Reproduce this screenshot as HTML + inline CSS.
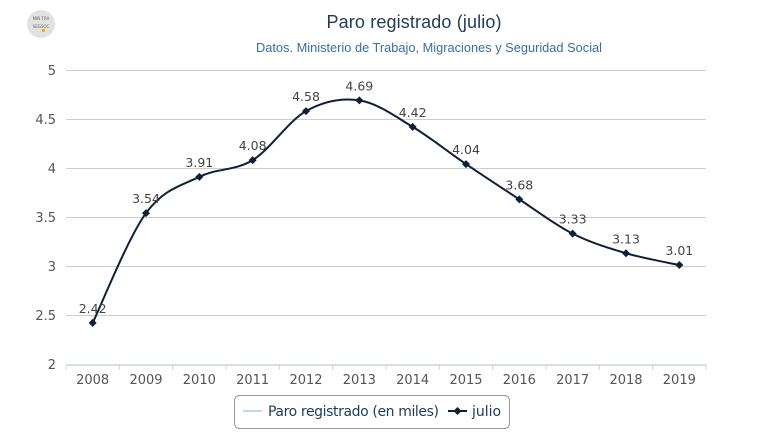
<!DOCTYPE html>
<html><head><meta charset="utf-8"><style>
body{margin:0;background:#fff;}
svg{display:block;font-family:"DejaVu Sans","Liberation Sans",sans-serif;}
</style></head><body>
<svg id="s" width="757" height="441" viewBox="0 0 757 441" xmlns="http://www.w3.org/2000/svg">
<circle cx="41" cy="24" r="14" fill="#e2e2e2"/>
<text x="41" y="20" font-size="4" text-anchor="middle" fill="#666">MIN TRA</text>
<text x="41" y="28" font-size="4" text-anchor="middle" fill="#666">SEGSOC</text>
<rect x="42" y="29" width="3" height="3" fill="#f0b400"/>
<text x="414" y="28" font-size="18" text-anchor="middle" fill="#1f3a5a" font-family="Liberation Sans, sans-serif" textLength="175">Paro registrado (julio)</text>
<text x="429" y="52" font-size="12.8" text-anchor="middle" fill="#3a6ea5" font-family="Liberation Sans, sans-serif" textLength="346">Datos. Ministerio de Trabajo, Migraciones y Seguridad Social</text>
<g id="grid"></g>
<g id="plot"></g>
<rect x="234.5" y="395.5" width="275" height="33" rx="5" fill="#fff" stroke="#999"/>
<line x1="243" y1="411" x2="262" y2="411" stroke="#c3d5e8" stroke-width="2"/>
<text x="268" y="416" font-size="14" fill="#1f3a5a" textLength="171">Paro registrado (en miles)</text>
<line x1="448" y1="411" x2="467" y2="411" stroke="#0e1f38" stroke-width="2"/>
<path d="M457.5 407 L461.5 411 L457.5 415 L453.5 411Z" fill="#0e1f38"/>
<text x="472" y="416" font-size="14" fill="#1f3a5a">julio</text>
</svg>
<script>
var ns="http://www.w3.org/2000/svg",g=document.getElementById('grid'),p=document.getElementById('plot');
function el(t,a,par,txt){var e=document.createElementNS(ns,t);for(var k in a)e.setAttribute(k,a[k]);if(txt!=null)e.textContent=txt;par.appendChild(e);return e;}
function Y(v){return 70+(5-v)*98;}
["2","2.5","3","3.5","4","4.5","5"].forEach(function(s){var y=Y(+s);
 if(s!="2")el('line',{x1:66,x2:706,y1:y+0.5,y2:y+0.5,stroke:'#ccc'},g);
 el('text',{x:56,y:y+5,'font-size':13,'text-anchor':'end',fill:'#555'},g,s);});
el('line',{x1:66,x2:706,y1:365,y2:365,stroke:'#c3d5e8','stroke-width':1.5},g);
var w=640/12;
for(var i=0;i<=12;i++){var x=66+i*w;el('line',{x1:x,x2:x,y1:365,y2:370,stroke:'#c3d5e8'},g);}
var v=[2.42,3.54,3.91,4.08,4.58,4.69,4.42,4.04,3.68,3.33,3.13,3.01];
var P=v.map(function(d,i){return [66+w*(i+0.5),Y(d)];});
v.forEach(function(d,i){el('text',{x:P[i][0],y:384,'font-size':13,'text-anchor':'middle',fill:'#555'},g,String(2008+i));});
var d="M"+P[0][0]+" "+P[0][1];
for(var i=0;i<P.length-1;i++){var p0=P[i-1]||P[i],p1=P[i],p2=P[i+1],p3=P[i+2]||P[i+1];
 var t=1/6;
 d+=" C"+(p1[0]+(p2[0]-p0[0])*t)+" "+(p1[1]+(p2[1]-p0[1])*t)+" "+(p2[0]-(p3[0]-p1[0])*t)+" "+(p2[1]-(p3[1]-p1[1])*t)+" "+p2[0]+" "+p2[1];}
el('path',{d:d,fill:'none',stroke:'#0e1f38','stroke-width':2},p);
P.forEach(function(q,i){el('path',{d:"M"+q[0]+" "+(q[1]-4)+" L"+(q[0]+4)+" "+q[1]+" L"+q[0]+" "+(q[1]+4)+" L"+(q[0]-4)+" "+q[1]+"Z",fill:'#0e1f38'},p);
 el('text',{x:q[0],y:q[1]-10,'font-size':12.5,'text-anchor':'middle',fill:'#444'},p,v[i].toFixed(2));});
</script>
</body></html>
